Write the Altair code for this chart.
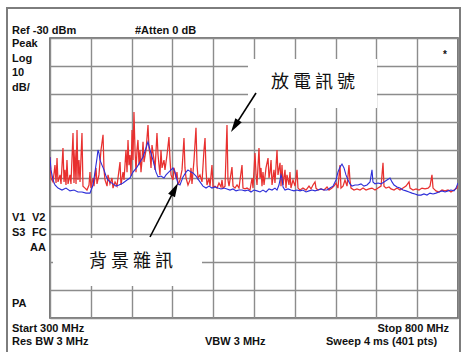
import math
import altair as alt
import pandas as pd

# ---- trace data (MHz, dBm) ----
red_freq = [
    300.0, 301.2, 303.7, 306.1, 307.4, 308.6, 309.8, 312.3, 313.5, 315.9,
    317.2, 318.4, 319.6, 320.8, 322.1, 324.5, 325.7, 328.2, 329.4, 330.6,
    331.9, 333.1, 334.3, 335.5, 336.8, 339.2, 340.4, 342.9, 345.3, 347.8,
    349.0, 350.2, 352.7, 353.9, 356.4, 357.6, 360.0, 362.5, 365.0, 366.2,
    367.4, 369.9, 371.1, 373.5, 376.0, 377.2, 379.7, 382.1, 385.8, 387.0,
    389.5, 390.7, 393.1, 394.4, 395.6, 396.8, 398.0, 399.3, 400.5, 401.7,
    402.9, 404.2, 405.4, 406.6, 407.8, 409.1, 410.3, 411.5, 412.8, 414.0,
    415.2, 417.7, 420.1, 421.3, 422.6, 423.8, 425.0, 427.5, 428.7, 431.1,
    432.4, 433.6, 434.8, 436.0, 437.3, 439.7, 440.9, 443.4, 445.8, 447.1,
    448.3, 450.7, 452.0, 454.4, 455.6, 456.9, 459.3, 461.8, 464.2, 465.4,
    466.7, 469.1, 471.6, 472.8, 474.0, 476.5, 478.9, 480.2, 481.4, 483.8,
    486.3, 488.7, 490.0, 491.2, 492.4, 494.9, 496.1, 498.5, 499.8, 502.2,
    504.7, 507.1, 509.6, 510.8, 512.0, 514.5, 516.9, 518.1, 519.4, 523.0,
    524.3, 526.7, 529.2, 531.6, 535.3, 536.5, 539.0, 541.4, 545.1, 547.6,
    548.8, 551.2, 552.5, 553.7, 556.1, 557.4, 558.6, 559.8, 561.0, 562.3,
    564.7, 567.2, 568.4, 569.6, 570.9, 572.1, 574.5, 575.7, 578.2, 579.4,
    581.9, 583.1, 584.3, 585.6, 588.0, 589.2, 590.4, 592.9, 594.1, 595.3,
    597.8, 600.3, 602.7, 603.9, 606.4, 610.0, 613.7, 617.4, 619.9, 622.3,
    624.8, 626.0, 628.4, 632.1, 635.8, 639.5, 641.9, 645.6, 648.0, 650.5,
    652.9, 655.4, 656.6, 659.1, 661.5, 664.0, 666.4, 667.6, 668.9, 672.5,
    676.2, 679.9, 683.6, 687.3, 690.9, 694.6, 698.3, 702.0, 705.7, 708.1,
    709.3, 711.8, 715.5, 717.9, 721.6, 725.3, 728.9, 732.6, 736.3, 740.0,
    741.2, 744.9, 748.6, 752.2, 755.9, 759.6, 763.3, 765.7, 768.1, 769.4,
    773.0, 776.7, 780.4, 784.1, 787.8, 791.4, 795.1, 798.8, 800.0,
]
red_dbm = [
    -72.5, -80.0, -81.4, -75.4, -81.8, -72.9, -81.4, -78.9, -82.1, -69.3,
    -81.4, -77.1, -82.5, -73.6, -82.1, -78.9, -82.1, -63.9, -81.8, -70.0,
    -82.1, -62.9, -80.7, -73.6, -81.4, -63.9, -82.9, -83.6, -84.3, -82.5,
    -77.9, -83.6, -80.0, -82.9, -76.4, -82.1, -78.9, -70.0, -64.6, -77.1,
    -80.7, -82.9, -78.9, -82.1, -80.0, -83.6, -81.4, -82.9, -74.3, -82.5,
    -77.9, -80.7, -70.0, -77.9, -66.4, -75.4, -71.8, -79.3, -62.9, -73.6,
    -56.4, -70.0, -77.9, -70.0, -66.4, -75.4, -70.0, -77.9, -73.6, -67.1,
    -74.3, -70.0, -61.1, -69.3, -71.8, -76.4, -68.2, -73.6, -77.1, -63.9,
    -71.8, -75.4, -78.9, -70.0, -76.4, -73.6, -77.1, -71.8, -65.4, -73.6,
    -78.9, -80.7, -76.4, -80.0, -77.9, -82.5, -80.7, -77.1, -65.7, -76.4,
    -80.0, -82.5, -80.7, -76.4, -82.1, -73.6, -62.1, -75.4, -80.0, -78.9,
    -81.4, -70.0, -65.7, -77.1, -82.5, -80.0, -82.9, -75.4, -83.2, -82.9,
    -83.6, -81.8, -83.2, -80.7, -83.6, -82.9, -61.1, -80.7, -82.9, -76.1,
    -82.9, -83.6, -82.5, -83.6, -75.4, -83.6, -83.9, -83.6, -84.3, -80.0,
    -83.6, -71.1, -78.9, -82.5, -69.3, -80.0, -76.4, -82.9, -77.9, -82.5,
    -76.4, -72.9, -80.0, -77.9, -73.6, -82.5, -77.1, -81.8, -70.0, -78.9,
    -74.6, -82.9, -75.4, -82.5, -77.1, -83.6, -78.9, -82.5, -77.9, -83.6,
    -80.7, -82.9, -77.1, -83.6, -84.3, -83.6, -84.3, -82.9, -83.9, -82.5,
    -81.4, -83.6, -84.3, -83.9, -84.3, -83.2, -84.3, -83.6, -82.9, -81.8,
    -83.6, -75.4, -83.6, -82.9, -80.7, -82.9, -75.4, -80.7, -83.6, -84.3,
    -83.9, -84.3, -83.6, -84.3, -83.9, -83.6, -84.3, -83.6, -82.9, -74.6,
    -82.9, -83.6, -83.2, -83.9, -84.3, -83.6, -84.3, -83.6, -82.9, -81.4,
    -83.6, -84.3, -83.9, -84.3, -83.6, -83.9, -83.6, -82.9, -78.9, -83.6,
    -84.6, -85.0, -84.3, -84.6, -84.3, -85.0, -84.3, -83.6, -82.5,
]

blue_freq = [
    300.0, 301.2, 303.7, 306.1, 309.8, 314.7, 319.6, 324.5, 329.4, 334.3,
    339.2, 344.1, 349.0, 352.7, 355.1, 357.6, 358.8, 360.0, 361.3, 363.7,
    366.2, 368.6, 371.1, 373.5, 377.2, 380.9, 384.6, 389.5, 394.4, 398.0,
    401.7, 406.6, 410.3, 414.0, 417.7, 420.1, 422.6, 426.2, 429.9, 432.4,
    436.0, 439.7, 442.2, 444.6, 448.3, 450.7, 453.2, 455.6, 456.9, 459.3,
    463.0, 466.7, 469.1, 472.8, 475.2, 478.9, 481.4, 483.8, 487.5, 491.2,
    494.9, 498.5, 502.2, 505.9, 509.6, 513.2, 516.9, 520.6, 524.3, 528.0,
    531.6, 535.3, 539.0, 542.7, 546.3, 550.0, 553.7, 557.4, 561.0, 564.7,
    568.4, 572.1, 575.7, 578.2, 580.6, 583.1, 584.3, 585.6, 588.0, 591.7,
    595.3, 599.0, 602.7, 606.4, 610.0, 613.7, 617.4, 621.1, 624.8, 628.4,
    632.1, 635.8, 639.5, 643.1, 646.8, 650.5, 652.9, 655.4, 657.8, 660.3,
    662.7, 665.2, 667.6, 670.1, 673.8, 677.5, 681.1, 684.8, 688.5, 692.2,
    694.6, 695.8, 698.3, 702.0, 705.7, 709.3, 713.0, 716.7, 719.1, 721.6,
    725.3, 728.9, 732.6, 736.3, 740.0, 743.6, 747.3, 751.0, 754.7, 758.3,
    762.0, 765.7, 769.4, 773.0, 776.7, 780.4, 784.1, 787.8, 791.4, 795.1,
    797.6, 800.0,
]
blue_dbm = [
    -72.5, -77.1, -80.7, -82.5, -83.6, -84.3, -83.6, -84.6, -84.3, -85.0,
    -85.0, -85.4, -85.4, -82.5, -77.9, -72.9, -70.0, -71.1, -73.6, -75.4,
    -77.1, -79.3, -80.7, -81.4, -82.1, -82.9, -82.5, -81.8, -80.7, -80.0,
    -77.9, -76.1, -74.3, -72.5, -69.3, -67.1, -70.0, -73.6, -77.9, -79.6,
    -79.3, -80.0, -78.9, -78.2, -77.1, -76.4, -77.9, -80.7, -82.1, -82.5,
    -79.6, -77.9, -77.1, -77.9, -78.2, -79.3, -80.4, -81.4, -82.9, -83.6,
    -82.9, -83.6, -83.2, -83.6, -83.9, -83.6, -83.9, -84.3, -83.9, -84.6,
    -84.3, -84.3, -84.6, -84.3, -85.0, -84.3, -84.6, -85.0, -84.3, -85.0,
    -83.9, -84.3, -83.6, -84.3, -82.5, -78.9, -80.0, -83.2, -84.3, -83.9,
    -84.3, -84.6, -84.3, -84.6, -84.3, -85.0, -84.6, -84.3, -84.6, -84.3,
    -83.9, -84.3, -84.3, -83.6, -82.9, -80.7, -77.9, -76.1, -75.0, -76.4,
    -78.9, -80.7, -82.1, -82.9, -82.5, -82.5, -82.1, -82.9, -82.5, -81.4,
    -77.1, -81.4, -82.1, -81.8, -82.1, -81.4, -80.7, -80.0, -81.4, -82.5,
    -83.2, -83.6, -84.3, -84.6, -85.0, -85.4, -85.7, -86.1, -86.1, -85.7,
    -86.1, -85.4, -85.7, -85.4, -85.0, -84.6, -85.0, -84.6, -84.3, -84.6,
    -83.6, -81.8,
]

x_ticks = [300, 350, 400, 450, 500, 550, 600, 650, 700, 750, 800]
y_ticks = [-130, -120, -110, -100, -90, -80, -70, -60, -50, -40, -30]

W, H = 408, 280
FONT = "Liberation Sans"
CJK = "Noto Sans CJK TC"

df_red = pd.DataFrame({"freq": red_freq, "dbm": red_dbm})
df_blue = pd.DataFrame({"freq": blue_freq, "dbm": blue_dbm})

xs = alt.Scale(domain=[300, 800], nice=False, zero=False)
ys = alt.Scale(domain=[-130, -30], nice=False, zero=False)
grid_kw = dict(grid=True, labels=False, ticks=False, domain=False, title=None,
               gridColor="#8c8c8c", gridWidth=1.4, gridOpacity=1)
xax = alt.Axis(values=x_ticks, **grid_kw)
yax = alt.Axis(values=y_ticks, **grid_kw)

red = alt.Chart(df_red).mark_line(color="#e8302f", strokeWidth=1.25, clip=True).encode(
    x=alt.X("freq:Q", scale=xs, axis=xax),
    y=alt.Y("dbm:Q", scale=ys, axis=yax),
)
blue = alt.Chart(df_blue).mark_line(color="#2d2ed8", strokeWidth=1.1, clip=True).encode(
    x=alt.X("freq:Q", scale=xs, axis=xax),
    y=alt.Y("dbm:Q", scale=ys, axis=yax),
)

one = pd.DataFrame({"k": [0]})


def label(t, x, y, align="left", size=11, weight="bold", font=FONT, color="#111111"):
    return alt.Chart(pd.DataFrame({"t": [t]})).mark_text(
        align=align, baseline="middle", fontSize=size, fontWeight=weight,
        font=font, color=color
    ).encode(x=alt.value(x), y=alt.value(y), text="t:N")


def box(x1, x2, y1, y2):
    return alt.Chart(one).mark_rect(fill="white", stroke=None).encode(
        x=alt.value(x1), x2=alt.value(x2), y=alt.value(y1), y2=alt.value(y2))


def arrow(tail, tip, head=14):
    dx, dy = tip[0] - tail[0], tip[1] - tail[1]
    L = math.hypot(dx, dy)
    ux, uy = dx / L, dy / L
    cx, cy = tip[0] - ux * head / 2, tip[1] - uy * head / 2
    ang = math.degrees(math.atan2(dx, -dy)) % 360
    line = alt.Chart(one).mark_rule(color="black", strokeWidth=1.6).encode(
        x=alt.value(tail[0]), y=alt.value(tail[1]),
        x2=alt.value(cx), y2=alt.value(cy))
    hd = alt.Chart(one).mark_point(
        shape="M0,-1L0.55,1L-0.55,1Z", filled=True, size=head * head,
        angle=ang, color="black", opacity=1, strokeWidth=0
    ).encode(x=alt.value(cx), y=alt.value(cy))
    return [line, hd]


frame = alt.Chart(one).mark_rect(fill=None, stroke="#7d7d7d", strokeWidth=2).encode(
    x=alt.value(-43), x2=alt.value(410), y=alt.value(-30), y2=alt.value(330))

layers = [frame, red, blue,
          box(198, 327, 21, 70), box(3, 152, 200, 248)]
layers += arrow((206, 55), (181, 94))
layers += arrow((100, 199), (128, 145))
layers += [
    label("放 電 訊 號", 263, 45, align="center", size=18, weight="normal", font=CJK),
    label("背 景 雜 訊", 81, 224, align="center", size=18, weight="normal", font=CJK),
    label("Ref -30 dBm", -38, -7),
    label("#Atten 0 dB", 85, -7),
    label("Peak", -38, 6),
    label("Log", -38, 21),
    label("10", -38, 35),
    label("dB/", -38, 50),
    label("V1", -38, 180),
    label("V2", -18, 180),
    label("S3", -38, 195),
    label("FC", -18, 195),
    label("AA", -20, 210),
    label("PA", -38, 266),
    label("Start 300 MHz", -38, 291),
    label("Res BW 3 MHz", -38, 304),
    label("VBW 3 MHz", 155, 304),
    label("Stop 800 MHz", 399, 291, align="right"),
    label("Sweep 4 ms (401 pts)", 276, 304),
    label("*", 393, 17, size=10),
]

chart = alt.layer(*layers).properties(
    width=W, height=H,
    padding={"left": 50, "top": 38, "right": 4, "bottom": 34},
    autosize=alt.AutoSizeParams(type="none"),
    background="white",
).configure_view(stroke="#555555", strokeWidth=1.6)

chart.save("out.html", embed_options={"renderer": "svg", "actions": False})
